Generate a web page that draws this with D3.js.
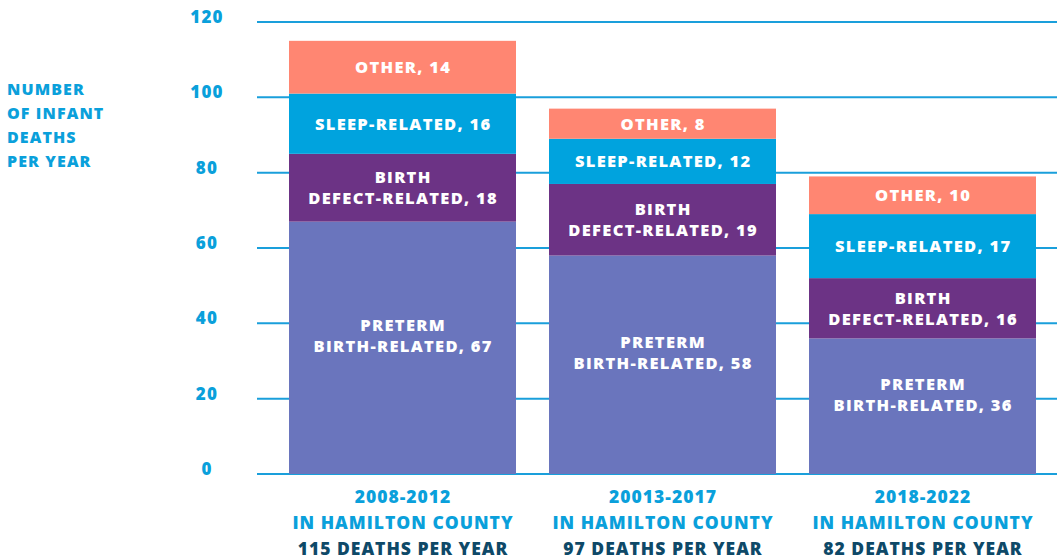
<!DOCTYPE html>
<html><head><meta charset="utf-8">
<script src="https://cdn.jsdelivr.net/npm/d3@7"></script>
<style>
html,body{margin:0;padding:0;background:#fff;}
svg{display:block;font-family:"Open Sans",sans-serif;font-weight:800;}
</style></head>
<body><svg id="c" width="1057" height="560"></svg>
<script>
const periods = ["2008-2012", "20013-2017", "2018-2022"];
const periodTotals = ["115 DEATHS PER YEAR", "97 DEATHS PER YEAR", "82 DEATHS PER YEAR"];
const causes = ["preterm", "defect", "sleep", "other"];
const causeLabels = [["PRETERM", "BIRTH-RELATED"], ["BIRTH", "DEFECT-RELATED"], ["SLEEP-RELATED"], ["OTHER"]];
const pretermValues = [67, 58, 36];
const defectValues = [18, 19, 16];
const sleepValues = [16, 12, 17];
const otherValues = [14, 8, 10];
const yTicks = [0, 20, 40, 60, 80, 100, 120];
const yTitle = ["NUMBER", "OF INFANT", "DEATHS", "PER YEAR"];
const colors = ["#6a75bd", "#6c3385", "#00a3de", "#ff8672"];

const svg = d3.select("#c");
const cyan = "#0aa0db", dark = "#0e4968";
const y = d3.scaleLinear().domain([0, 120]).range([474, 22]);
const x = d3.scaleBand().domain(periods).range([272.5, 1052.5]).paddingInner(33/260).paddingOuter(16.5/260);

const rows = periods.map((p, i) => ({period: p, preterm: pretermValues[i], defect: defectValues[i], sleep: sleepValues[i], other: otherValues[i]}));
const stack = d3.stack().keys(causes)(rows);

// gridlines
svg.append("g").selectAll("line").data(yTicks).join("line")
  .attr("x1", 257).attr("x2", 1057)
  .attr("y1", d => y(d)).attr("y2", d => y(d))
  .attr("stroke", "#1a9fdb").attr("stroke-width", 2);
// tick labels
svg.append("g").selectAll("text").data(yTicks).join("text")
  .attr("x", 207).attr("y", d => y(d) + 1).attr("text-anchor", "middle")
  .attr("fill", cyan).attr("font-size", 17).attr("letter-spacing", 1.2).text(d => d);
// y title
svg.append("text").attr("x", 7).attr("fill", cyan).attr("font-size", 16).attr("letter-spacing", 1.1)
  .selectAll("tspan").data(yTitle).join("tspan")
  .attr("x", 7).attr("y", (d, i) => 95 + i * 24).text(d => d);

// bars
stack.forEach((layer, li) => {
  const g = svg.append("g");
  g.selectAll("rect").data(layer).join("rect")
    .attr("x", d => x(d.data.period)).attr("width", x.bandwidth())
    .attr("y", d => y(d[1])).attr("height", d => y(d[0]) - y(d[1]))
    .attr("fill", colors[li]);
  const lines = causeLabels[li];
  g.selectAll("text").data(layer).join("text")
    .attr("text-anchor", "middle").attr("fill", "#fff").attr("font-size", 16.5).attr("letter-spacing", 1.3)
    .each(function(d) {
      const cx = x(d.data.period) + x.bandwidth() / 2 + 0.65;
      const cy = (y(d[0]) + y(d[1])) / 2 - (li === 0 ? 12 : 0);
      const val = d.data[causes[li]];
      const ls = lines.map((t, k) => k === lines.length - 1 ? t + ", " + val : t);
      const lh = 21;
      const y0 = cy - (ls.length - 1) * lh / 2 + 6;
      d3.select(this).selectAll("tspan").data(ls).join("tspan")
        .attr("x", cx).attr("y", (t, k) => y0 + k * lh).text(t => t);
    });
});

// bottom labels
const bl = svg.append("g").selectAll("text").data(periods).join("text")
  .attr("text-anchor", "middle").attr("font-size", 17.5).attr("letter-spacing", 1.0);
bl.each(function(p, i) {
  const cx = x(p) + x.bandwidth() / 2 + 0.5;
  const t = d3.select(this);
  t.append("tspan").attr("x", cx).attr("y", 503).attr("fill", cyan).text(p);
  t.append("tspan").attr("x", cx).attr("y", 529).attr("fill", cyan).text("IN HAMILTON COUNTY");
  t.append("tspan").attr("x", cx).attr("y", 555).attr("fill", dark).text(periodTotals[i]);
});
</script></body></html>
